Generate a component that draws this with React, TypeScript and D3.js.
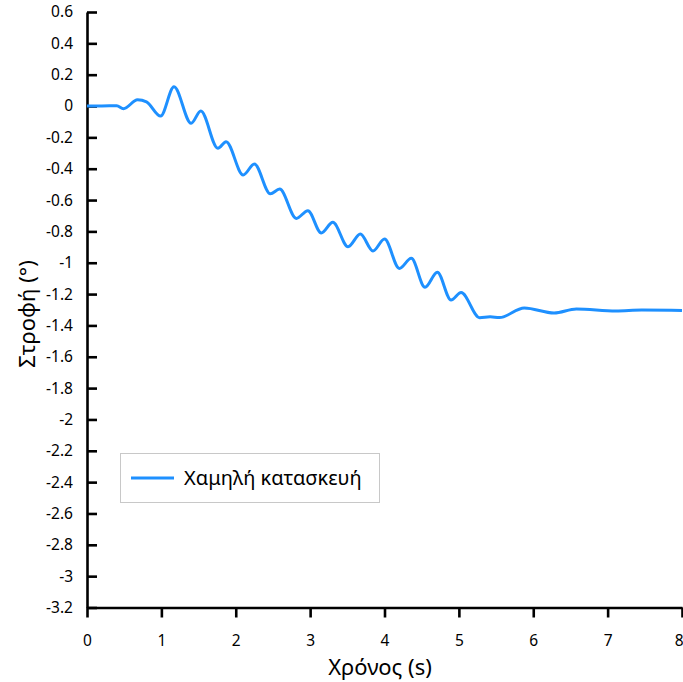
import React, { useEffect, useRef } from "react";
import * as d3 from "d3";

// Rotation response over time (seconds -> degrees)
const timeS = [
  0, 0.2, 0.4, 0.49, 0.68, 0.8, 0.99, 1.17, 1.4, 1.53, 1.76, 1.87, 2.1, 2.25,
  2.465, 2.59, 2.815, 2.97, 3.15, 3.305, 3.51, 3.675, 3.845, 4.0, 4.2, 4.36,
  4.545, 4.71, 4.895, 5.03, 5.28, 5.42, 5.545, 5.88, 6.28, 6.58, 7.11, 7.46, 8.0,
];
const rotationDeg = [
  0, 0, 0.002, -0.017, 0.04, 0.027, -0.064, 0.123, -0.11, -0.032, -0.27, -0.228,
  -0.44, -0.37, -0.56, -0.53, -0.717, -0.668, -0.81, -0.742, -0.898, -0.817,
  -0.925, -0.849, -1.036, -0.972, -1.157, -1.061, -1.238, -1.19, -1.351, -1.345,
  -1.35, -1.289, -1.321, -1.295, -1.308, -1.302, -1.304,
];

const xTicks = [0, 1, 2, 3, 4, 5, 6, 7, 8];
const yTicks = [
  0.6, 0.4, 0.2, 0, -0.2, -0.4, -0.6, -0.8, -1, -1.2, -1.4, -1.6, -1.8, -2,
  -2.2, -2.4, -2.6, -2.8, -3, -3.2,
];
const yTickLabels = [
  "0.6", "0.4", "0.2", "0", "-0.2", "-0.4", "-0.6", "-0.8", "-1", "-1.2", "-1.4",
  "-1.6", "-1.8", "-2", "-2.2", "-2.4", "-2.6", "-2.8", "-3", "-3.2",
];
const seriesName = "Χαμηλή κατασκευή";
const xTitle = "Χρόνος (s)";
const yTitle = "Στροφή (°)";

const W = 683;
const H = 682;
const FONT = "'Noto Sans', 'Open Sans', sans-serif";
const LINE_COLOR = "#1E90FF";

export default function App() {
  const ref = useRef<SVGSVGElement>(null);

  useEffect(() => {
    const svg = d3.select(ref.current);
    svg.selectAll("*").remove();

    const x = d3.scaleLinear().domain([0, 8]).range([87, 682]);
    const y = d3.scaleLinear().domain([-3.2, 0.6]).range([607.5, 12]);

    // Y axis: ticks point inward
    const yAxis = d3
      .axisLeft(y)
      .tickValues(yTicks)
      .tickFormat((d, i) => yTickLabels[i])
      .tickSizeInner(-10)
      .tickSizeOuter(0)
      .tickPadding(14);
    const gy = svg.append("g").attr("transform", `translate(${x(0)},0)`).call(yAxis);

    // X axis: ticks point outward
    const xAxis = d3
      .axisBottom(x)
      .tickValues(xTicks)
      .tickFormat((d) => String(d))
      .tickSizeInner(10)
      .tickSizeOuter(0)
      .tickPadding(17);
    const gx = svg.append("g").attr("transform", `translate(0,${y(-3.2)})`).call(xAxis);

    [gx, gy].forEach((g) => {
      g.select(".domain").attr("stroke", "#000").attr("stroke-width", 2.6);
      g.selectAll(".tick line").attr("stroke", "#000").attr("stroke-width", 2.6);
      g.selectAll(".tick text")
        .attr("fill", "#000")
        .style("font-family", FONT)
        .style("font-size", "15.5px");
    });
    // keep the last x label inside the frame
    gx.selectAll<SVGTextElement, number>(".tick text")
      .filter((d) => d === 8)
      .attr("text-anchor", "end")
      .attr("x", 1);

    // Series line
    const pts = timeS.map((t, i) => [t, rotationDeg[i]] as [number, number]);
    const line = d3
      .line<[number, number]>()
      .x((d) => x(d[0]))
      .y((d) => y(d[1]))
      .curve(d3.curveMonotoneX);
    svg
      .append("path")
      .datum(pts)
      .attr("d", line)
      .attr("fill", "none")
      .attr("stroke", LINE_COLOR)
      .attr("stroke-width", 3)
      .attr("stroke-linejoin", "round");

    // Axis titles
    svg
      .append("text")
      .attr("x", 380)
      .attr("y", 675)
      .attr("text-anchor", "middle")
      .style("font-family", FONT)
      .style("font-size", "22px")
      .text(xTitle);
    svg
      .append("text")
      .attr("transform", `translate(35,314) rotate(-90)`)
      .attr("text-anchor", "middle")
      .style("font-family", FONT)
      .style("font-size", "22px")
      .text(yTitle);

    // Legend
    const lg = svg.append("g");
    lg.append("rect")
      .attr("x", 120.5)
      .attr("y", 453.5)
      .attr("width", 259)
      .attr("height", 49)
      .attr("fill", "#fff")
      .attr("stroke", "#c8c8c8")
      .attr("stroke-width", 1);
    lg.append("line")
      .attr("x1", 131)
      .attr("x2", 174)
      .attr("y1", 478)
      .attr("y2", 478)
      .attr("stroke", LINE_COLOR)
      .attr("stroke-width", 3);
    lg.append("text")
      .attr("x", 184)
      .attr("y", 478)
      .attr("dy", "0.35em")
      .style("font-family", FONT)
      .style("font-size", "20px")
      .text(seriesName);
  }, []);

  return (
    <svg
      ref={ref}
      width={W}
      height={H}
      style={{ position: "absolute", left: 0, top: 0, background: "#fff" }}
    />
  );
}
